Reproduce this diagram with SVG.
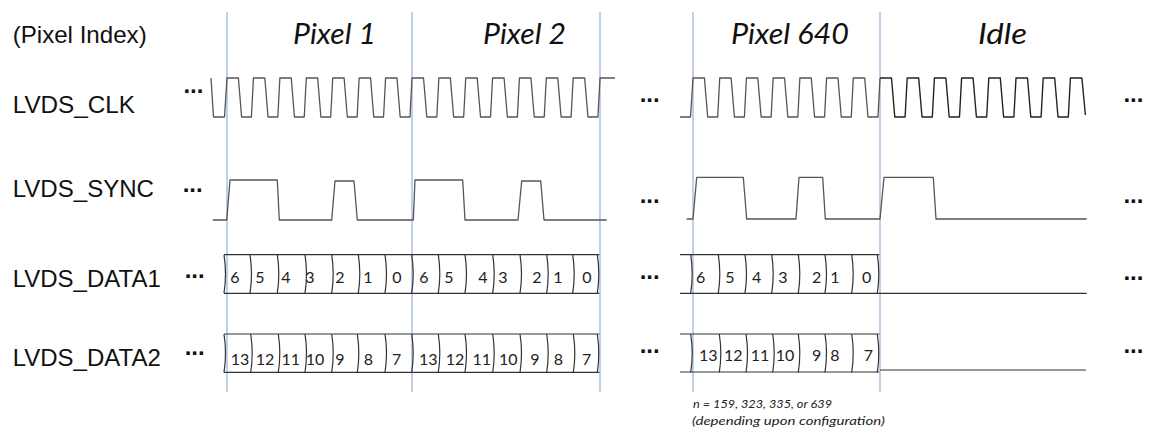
<svg xmlns="http://www.w3.org/2000/svg" xmlns:xlink="http://www.w3.org/1999/xlink" width="1176" height="434" viewBox="0 0 1176 434">
  <style>
    .label { font-family: "Liberation Sans", Arial, sans-serif; font-size: 24px; fill: #111; }
    .head { font-family: Lato, "Open Sans", sans-serif; font-style: italic; font-size: 28px; fill: #111; }
    .dots { font-family: "Liberation Sans", Arial, sans-serif; font-size: 24px; font-weight: bold; fill: #111; }
    .bit { font-family: Lato, "Open Sans", sans-serif; font-size: 16px; fill: #222; text-anchor: middle; }
    .note { font-family: Lato, "Open Sans", sans-serif; font-style: italic; font-size: 11px; fill: #222; }
    .wave { fill: none; stroke: #555; stroke-width: 1.3; stroke-linejoin: round; }
    .wave-dark { fill: none; stroke: #222; stroke-width: 1.4; stroke-linejoin: round; }
    .bus { fill: none; stroke: #333; stroke-width: 1.2; }
    .mark { stroke: #9db7dc; stroke-width: 1.3; }
  </style>
  <defs>
    <path id="sep" d="M0 0 q3 19.3 0 38.5" fill="none" stroke="#333" stroke-width="1.2"/>
  </defs>
  <rect width="1176" height="434" fill="#fff"/>

  <!-- pixel boundary markers -->
  <g id="markers">
    <line class="mark" x1="227" y1="12" x2="227" y2="392"/>
    <line class="mark" x1="412" y1="12" x2="412" y2="392"/>
    <line class="mark" x1="600" y1="12" x2="600" y2="392"/>
    <line class="mark" x1="693" y1="12" x2="693" y2="392"/>
    <line class="mark" x1="880" y1="12" x2="880" y2="392"/>
  </g>

  <!-- row labels -->
  <g id="row-labels">
    <text class="label" x="12.7" y="43.3" textLength="134" lengthAdjust="spacingAndGlyphs">(Pixel Index)</text>
    <text class="label" x="12.7" y="113.3" textLength="122.3" lengthAdjust="spacingAndGlyphs">LVDS_CLK</text>
    <text class="label" x="12.7" y="197.3" textLength="141.3" lengthAdjust="spacingAndGlyphs">LVDS_SYNC</text>
    <text class="label" x="12.7" y="286.5">LVDS_DATA1</text>
    <text class="label" x="12.7" y="366">LVDS_DATA2</text>
  </g>

  <!-- column headings -->
  <g id="headings">
    <text class="head" x="293" y="44" textLength="83" lengthAdjust="spacingAndGlyphs">Pixel 1</text>
    <text class="head" x="483" y="44" textLength="83" lengthAdjust="spacingAndGlyphs">Pixel 2</text>
    <text class="head" x="731" y="44" textLength="118" lengthAdjust="spacingAndGlyphs">Pixel 640</text>
    <text class="head" x="978" y="44" textLength="49" lengthAdjust="spacingAndGlyphs">Idle</text>
  </g>

  <!-- continuation dots -->
  <g id="ellipses">
    <text class="dots" x="183.4" y="92.5">...</text>
    <text class="dots" x="182.7" y="191.5">...</text>
    <text class="dots" x="184.7" y="277.5">...</text>
    <text class="dots" x="184.7" y="355">...</text>
    <text class="dots" x="639.7" y="101.5">...</text>
    <text class="dots" x="639.7" y="202.5">...</text>
    <text class="dots" x="639.7" y="278.5">...</text>
    <text class="dots" x="639.7" y="352.5">...</text>
    <text class="dots" x="1123.4" y="101.5">...</text>
    <text class="dots" x="1123.4" y="203.2">...</text>
    <text class="dots" x="1123.4" y="279.8">...</text>
    <text class="dots" x="1123.4" y="353.2">...</text>
  </g>

  <!-- LVDS_CLK -->
  <g id="clk">
    <path class="wave" d="M211 78 l2.5 39 h11 l2.5 -39
      h11.4 l3.2 39 h9.8 l2.03 -39 h11.4 l3.2 39 h9.8 l2.03 -39
      h11.4 l3.2 39 h9.8 l2.03 -39 h11.4 l3.2 39 h9.8 l2.03 -39
      h11.4 l3.2 39 h9.8 l2.03 -39 h11.4 l3.2 39 h9.8 l2.03 -39
      h11.4 l3.2 39 h9.8 l2.03 -39
      h11.5 l3.3 39 h10 l2.057 -39 h11.5 l3.3 39 h10 l2.057 -39
      h11.5 l3.3 39 h10 l2.057 -39 h11.5 l3.3 39 h10 l2.057 -39
      h11.5 l3.3 39 h10 l2.057 -39 h11.5 l3.3 39 h10 l2.057 -39
      h11.5 l3.3 39 h10 l2.057 -39 h15"/>
    <path class="wave" d="M680 117 h10.5 l2.5 -39
      h11.4 l3.3 39 h10 l2.014 -39 h11.4 l3.3 39 h10 l2.014 -39
      h11.4 l3.3 39 h10 l2.014 -39 h11.4 l3.3 39 h10 l2.014 -39
      h11.4 l3.3 39 h10 l2.014 -39 h11.4 l3.3 39 h10 l2.014 -39
      h11.4 l3.3 39 h10 l2.014 -39"/>
    <path class="wave-dark" d="M880 78
      h11.5 l3.3 39 h10.3 l2.1 -39 h11.5 l3.3 39 h10.3 l2.1 -39
      h11.5 l3.3 39 h10.3 l2.1 -39 h11.5 l3.3 39 h10.3 l2.1 -39
      h11.5 l3.3 39 h10.3 l2.1 -39 h11.5 l3.3 39 h10.3 l2.1 -39
      h11.5 l3.3 39 h10.3 l2.1 -39 h11.5 l3.5 37"/>
  </g>

  <!-- LVDS_SYNC -->
  <g id="sync">
    <path class="wave" d="M212.7 220 H226.7 L230 180 H277.3 L279.3 220 H331.7 L335 181 H354 L357.3 220 H413.3 L415 180 H462.7 L465 220 H518 L521.7 181 H540.7 L544 220 H606.7"/>
    <path class="wave" d="M686.7 219 H693 L696.7 177.3 H743.3 L746.7 219 H796 L799 177.3 H822.7 L825.3 219 H880 L884 177.3 H933.3 L936 219 H1086.7"/>
  </g>

  <!-- LVDS_DATA1 -->
  <g id="data1">
    <path class="bus" d="M224 254.7 H599.3 M224 293.3 H599.3 M680 254.7 H692.7 M680 293.3 H880 H1086.7 M692.7 254.7 H879.3"/>
    <use xlink:href="#sep" x="224" y="254.7"/><use xlink:href="#sep" x="250" y="254.7"/>
    <use xlink:href="#sep" x="277.3" y="254.7"/><use xlink:href="#sep" x="305" y="254.7"/>
    <use xlink:href="#sep" x="331.7" y="254.7"/><use xlink:href="#sep" x="358.3" y="254.7"/>
    <use xlink:href="#sep" x="385" y="254.7"/><use xlink:href="#sep" x="411.7" y="254.7"/>
    <use xlink:href="#sep" x="438.3" y="254.7"/><use xlink:href="#sep" x="465" y="254.7"/>
    <use xlink:href="#sep" x="492.7" y="254.7"/><use xlink:href="#sep" x="520" y="254.7"/>
    <use xlink:href="#sep" x="546.7" y="254.7"/><use xlink:href="#sep" x="572.7" y="254.7"/>
    <use xlink:href="#sep" x="597.3" y="254.7"/>
    <use xlink:href="#sep" x="690.7" y="254.7"/><use xlink:href="#sep" x="718.3" y="254.7"/>
    <use xlink:href="#sep" x="745" y="254.7"/><use xlink:href="#sep" x="771.7" y="254.7"/>
    <use xlink:href="#sep" x="798.3" y="254.7"/><use xlink:href="#sep" x="825" y="254.7"/>
    <use xlink:href="#sep" x="851.7" y="254.7"/><use xlink:href="#sep" x="877.3" y="254.7"/>
    <text class="bit" x="235" y="283.3">6</text><text class="bit" x="260" y="283.3">5</text>
    <text class="bit" x="286" y="283.3">4</text><text class="bit" x="310" y="283.3">3</text>
    <text class="bit" x="340" y="283.3">2</text><text class="bit" x="368" y="283.3">1</text>
    <text class="bit" x="397" y="283.3">0</text>
    <text class="bit" x="424" y="283.3">6</text><text class="bit" x="449" y="283.3">5</text>
    <text class="bit" x="483" y="283.3">4</text><text class="bit" x="503" y="283.3">3</text>
    <text class="bit" x="537" y="283.3">2</text><text class="bit" x="558" y="283.3">1</text>
    <text class="bit" x="587" y="283.3">0</text>
    <text class="bit" x="700.7" y="283.3">6</text><text class="bit" x="730" y="283.3">5</text>
    <text class="bit" x="756.7" y="283.3">4</text><text class="bit" x="783" y="283.3">3</text>
    <text class="bit" x="816.7" y="283.3">2</text><text class="bit" x="835" y="283.3">1</text>
    <text class="bit" x="866.7" y="283.3">0</text>
  </g>

  <!-- LVDS_DATA2 -->
  <g id="data2">
    <path class="bus" d="M224 334 H599.3 M224 372.3 H599.3 M680 334 H692.7 M680 372 H692.7 M692.7 334 H879.3 M692.7 372 H879.3 M880 370 H1086"/>
    <use xlink:href="#sep" x="224" y="334"/><use xlink:href="#sep" x="250.7" y="334"/>
    <use xlink:href="#sep" x="278.3" y="334"/><use xlink:href="#sep" x="305" y="334"/>
    <use xlink:href="#sep" x="331.7" y="334"/><use xlink:href="#sep" x="357.3" y="334"/>
    <use xlink:href="#sep" x="385" y="334"/><use xlink:href="#sep" x="411.7" y="334"/>
    <use xlink:href="#sep" x="438.3" y="334"/><use xlink:href="#sep" x="465" y="334"/>
    <use xlink:href="#sep" x="492.7" y="334"/><use xlink:href="#sep" x="520" y="334"/>
    <use xlink:href="#sep" x="546.7" y="334"/><use xlink:href="#sep" x="573.3" y="334"/>
    <use xlink:href="#sep" x="597.3" y="334"/>
    <use xlink:href="#sep" x="690.7" y="334"/><use xlink:href="#sep" x="719.3" y="334"/>
    <use xlink:href="#sep" x="746" y="334"/><use xlink:href="#sep" x="772.7" y="334"/>
    <use xlink:href="#sep" x="798.3" y="334"/><use xlink:href="#sep" x="825" y="334"/>
    <use xlink:href="#sep" x="851.7" y="334"/><use xlink:href="#sep" x="877.3" y="334"/>
    <text class="bit" x="240" y="365">13</text><text class="bit" x="265" y="365">12</text>
    <text class="bit" x="290.7" y="365">11</text><text class="bit" x="315" y="365">10</text>
    <text class="bit" x="340" y="365">9</text><text class="bit" x="368.3" y="365">8</text>
    <text class="bit" x="396.7" y="365">7</text>
    <text class="bit" x="428.3" y="365">13</text><text class="bit" x="455" y="365">12</text>
    <text class="bit" x="481.7" y="365">11</text><text class="bit" x="508.3" y="365">10</text>
    <text class="bit" x="535" y="365">9</text><text class="bit" x="558.3" y="365">8</text>
    <text class="bit" x="586.7" y="365">7</text>
    <text class="bit" x="708.3" y="361">13</text><text class="bit" x="733.3" y="361">12</text>
    <text class="bit" x="760" y="361">11</text><text class="bit" x="785" y="361">10</text>
    <text class="bit" x="816.7" y="361">9</text><text class="bit" x="835" y="361">8</text>
    <text class="bit" x="868.3" y="361">7</text>
  </g>

  <!-- configuration note -->
  <g id="note">
    <text class="note" x="693" y="408" textLength="139" lengthAdjust="spacingAndGlyphs">n = 159, 323, 335, or 639</text>
    <text class="note" x="692" y="425" textLength="193" lengthAdjust="spacingAndGlyphs">(depending upon configuration)</text>
  </g>
</svg>
